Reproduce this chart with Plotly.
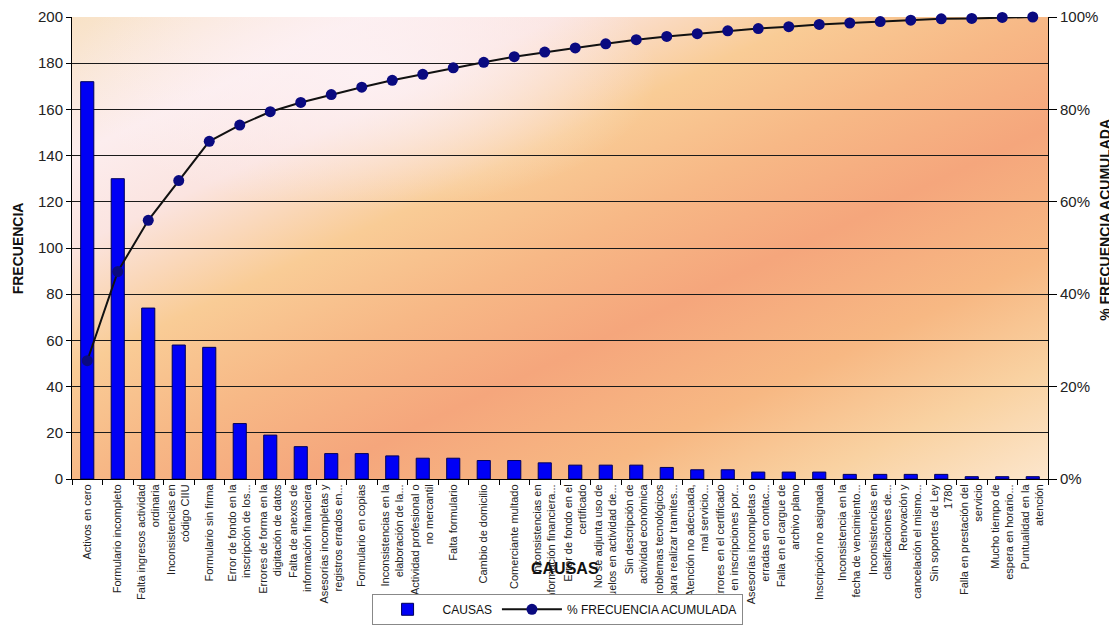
import base64
import plotly.graph_objects as go

categorias = [
    "Activos en cero",
    "Formulario incompleto",
    "Falta ingresos actividad<br>ordinaria",
    "Inconsistencias en<br>código CIIU",
    "Formulario sin firma",
    "Error de fondo en la<br>inscripción de los...",
    "Errores de forma en la<br>digitación de datos",
    "Falta de anexos de<br>información financiera",
    "Asesorías incompletas y<br>registros errados en...",
    "Formulario en copias",
    "Inconsistencias en la<br>elaboración de la...",
    "Actividad profesional o<br>no mercantil",
    "Falta formulario",
    "Cambio de domicilio",
    "Comerciante multado",
    "Inconsistencias en<br>información financiera...",
    "Error de fondo en el<br>certificado",
    "No se adjunta uso de<br>suelos en actividad de...",
    "Sin descripción de<br>actividad económica",
    "Problemas tecnológicos<br>para realizar tramites...",
    "Atención no adecuada,<br>mal servicio...",
    "Errores en el certificado<br>en inscripciones por...",
    "Asesorías incompletas o<br>erradas en contac...",
    "Falla en el cargue de<br>archivo plano",
    "Inscripción no asignada",
    "Inconsistencia en la<br>fecha de vencimiento...",
    "Inconsistencias en<br>clasificaciones de...",
    "Renovación y<br>cancelación el mismo...",
    "Sin soportes de Ley<br>1780",
    "Falla en prestación del<br>servicio",
    "Mucho tiempo de<br>espera en horario...",
    "Puntualidad en la<br>atención",
]

frecuencia = [172, 130, 74, 58, 57, 24, 19, 14, 11, 11, 10, 9, 9, 8, 8, 7,
              6, 6, 6, 5, 4, 4, 3, 3, 3, 2, 2, 2, 2, 1, 1, 1]

pct_acumulado = [25.6, 44.9, 56.0, 64.6, 73.1, 76.6, 79.5, 81.5, 83.2, 84.8,
                 86.3, 87.6, 89.0, 90.2, 91.4, 92.4, 93.3, 94.2, 95.1, 95.8,
                 96.4, 97.0, 97.5, 97.9, 98.4, 98.7, 99.0, 99.3, 99.6, 99.7,
                 99.9, 100.0]

y_ticks = [0, 20, 40, 60, 80, 100, 120, 140, 160, 180, 200]
y2_ticks = [0, 20, 40, 60, 80, 100]

FONT = "Arial, 'Liberation Sans', sans-serif"

# background gradient (decoration only)
svg = """<svg xmlns='http://www.w3.org/2000/svg' width='976' height='462' preserveAspectRatio='none' viewBox='0 0 976 462'>
<defs>
<linearGradient id='g' x1='0' y1='0' x2='1' y2='1' gradientUnits='objectBoundingBox'>
<stop offset='0' stop-color='#F8E2C6'/>
<stop offset='0.15' stop-color='#FCEDEE'/>
<stop offset='0.25' stop-color='#FBE4E0'/>
<stop offset='0.38' stop-color='#F9CC96'/>
<stop offset='0.5' stop-color='#F7B886'/>
<stop offset='0.62' stop-color='#F5A67C'/>
<stop offset='0.76' stop-color='#F7B883'/>
<stop offset='0.88' stop-color='#F9D2A2'/>
<stop offset='1' stop-color='#FCE6CC'/>
</linearGradient>
<radialGradient id='r' cx='0.3' cy='0.12' r='0.3' gradientUnits='objectBoundingBox'>
<stop offset='0' stop-color='#FDF1F4' stop-opacity='0.9'/>
<stop offset='1' stop-color='#FDF1F4' stop-opacity='0'/>
</radialGradient>
</defs>
<rect width='976' height='462' fill='url(#g)'/>
<rect width='976' height='462' fill='url(#r)'/>
</svg>"""
bg_src = "data:image/svg+xml;base64," + base64.b64encode(svg.encode()).decode()

fig = go.Figure()

fig.add_trace(go.Bar(
    x=categorias, y=frecuencia, name="CAUSAS",
    marker=dict(color="#0000F5", line=dict(color="#00005A", width=1)),
    yaxis="y",
))

fig.add_trace(go.Scatter(
    x=categorias, y=pct_acumulado, name="% FRECUENCIA ACUMULADA",
    mode="lines+markers",
    line=dict(color="#111111", width=2),
    marker=dict(color="#0A0A80", size=11, line=dict(color="#0A0A80", width=0)),
    yaxis="y2", cliponaxis=False,
))

# page body has an 8px default margin: figure is sized to fit the window
fig.update_layout(
    width=1109, height=619,
    margin=dict(l=64, r=69, t=9, b=148, autoexpand=False),
    paper_bgcolor="white",
    plot_bgcolor="rgba(0,0,0,0)",
    font=dict(family=FONT, color="#222222"),
    bargap=0.57,
    showlegend=True,
    legend=dict(
        orientation="h", x=0.497, xanchor="center", y=-0.282, yanchor="middle",
        bgcolor="white", bordercolor="#888888", borderwidth=1,
        font=dict(size=12, family=FONT, color="#111111"),
        itemwidth=60,
    ),
    xaxis=dict(
        type="category",
        range=[-0.5, len(categorias) - 0.5],
        tickangle=-90,
        tickfont=dict(size=11, family=FONT, color="#222222"),
        ticks="outside", tickson="boundaries", ticklen=5, tickcolor="black",
        showline=True, linecolor="black", linewidth=1,
        showgrid=False, automargin=False,
    ),
    yaxis=dict(
        range=[0, 200], tickvals=y_ticks,
        tickfont=dict(size=15, family=FONT, color="#222222"),
        ticks="outside", ticklen=5, tickcolor="black",
        showline=True, linecolor="black", linewidth=1,
        showgrid=True, gridcolor="#1a1a1a", gridwidth=1,
        zeroline=False, automargin=False,
    ),
    yaxis2=dict(
        overlaying="y", side="right",
        range=[0, 100], tickvals=y2_ticks,
        ticktext=[f"{v}%" for v in y2_ticks],
        tickfont=dict(size=15, family=FONT, color="#222222"),
        ticks="outside", ticklen=8, tickcolor="black",
        showline=True, linecolor="black", linewidth=1,
        showgrid=False, zeroline=False, automargin=False,
    ),
    images=[dict(
        source=bg_src, xref="paper", yref="paper", x=0, y=1,
        sizex=1, sizey=1, sizing="stretch", layer="below",
    )],
    annotations=[
        dict(text="<b>FRECUENCIA</b>", xref="paper", yref="paper",
             x=-0.055, y=0.5, xanchor="center", yanchor="middle",
             textangle=-90, showarrow=False,
             font=dict(size=14, family=FONT, color="#111111")),
        dict(text="<b>% FRECUENCIA ACUMULADA</b>", xref="paper", yref="paper",
             x=1.059, y=0.56, xanchor="center", yanchor="middle",
             textangle=-90, showarrow=False,
             font=dict(size=14, family=FONT, color="#111111")),
        dict(text="<b>CAUSAS</b>", xref="paper", yref="paper",
             x=0.505, y=-0.193, xanchor="center", yanchor="middle",
             showarrow=False,
             font=dict(size=16, family=FONT, color="#111111")),
    ],
)

fig.write_html("out.html")
